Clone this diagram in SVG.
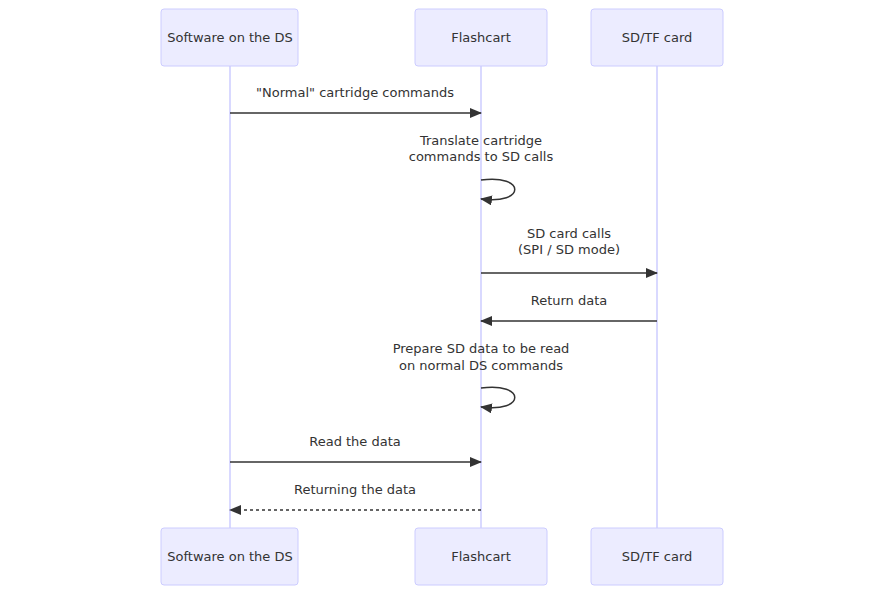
<svg xmlns="http://www.w3.org/2000/svg" width="885" height="595" viewBox="0 0 885 595">
<defs>
<style>
.actor{fill:#ECECFF;stroke:#CCCCFF;stroke-width:1}
.life{stroke:#CCCCFF;stroke-width:1.5}
.lbl{font-family:"DejaVu Sans",sans-serif;font-size:13px;fill:#333;text-anchor:middle}
.msg{stroke:#333;stroke-width:1.5;fill:none}
.dash{stroke-dasharray:3,3}
</style>
<marker id="ah" viewBox="0 0 12 10" refX="11" refY="5" markerWidth="12" markerHeight="10" markerUnits="userSpaceOnUse" orient="auto">
<path d="M0,0 L12,5 L0,10 z" fill="#333"/>
</marker>
</defs>
<rect width="885" height="595" fill="#fff"/>
<g id="lifelines">
<line class="life" x1="230" y1="66" x2="230" y2="528"/>
<line class="life" x1="481" y1="66" x2="481" y2="528"/>
<line class="life" x1="657" y1="66" x2="657" y2="528"/>
</g>
<g id="actor-ds-top"><rect class="actor" x="161" y="9" width="137" height="57" rx="3"/><text class="lbl" x="230" y="42">Software on the DS</text></g>
<g id="actor-fc-top"><rect class="actor" x="415" y="9" width="132" height="57" rx="3"/><text class="lbl" x="481" y="42">Flashcart</text></g>
<g id="actor-sd-top"><rect class="actor" x="591" y="9" width="132" height="57" rx="3"/><text class="lbl" x="657" y="42">SD/TF card</text></g>
<g id="actor-ds-bottom"><rect class="actor" x="161" y="528" width="137" height="57" rx="3"/><text class="lbl" x="230" y="561">Software on the DS</text></g>
<g id="actor-fc-bottom"><rect class="actor" x="415" y="528" width="132" height="57" rx="3"/><text class="lbl" x="481" y="561">Flashcart</text></g>
<g id="actor-sd-bottom"><rect class="actor" x="591" y="528" width="132" height="57" rx="3"/><text class="lbl" x="657" y="561">SD/TF card</text></g>
<g id="connectors">
<line class="msg" x1="230" y1="113" x2="481" y2="113" marker-end="url(#ah)"/>
<path class="msg" d="M481,180 C526,174 526,205 481,199" marker-end="url(#ah)"/>
<line class="msg" x1="481" y1="273" x2="657" y2="273" marker-end="url(#ah)"/>
<line class="msg" x1="657" y1="321" x2="481" y2="321" marker-end="url(#ah)"/>
<path class="msg" d="M481,388 C526,382 526,413 481,407" marker-end="url(#ah)"/>
<line class="msg" x1="230" y1="462" x2="481" y2="462" marker-end="url(#ah)"/>
<line class="msg dash" x1="481" y1="510" x2="230" y2="510" marker-end="url(#ah)"/>
</g>
<g id="labels">
<text class="lbl" x="355" y="97">"Normal" cartridge commands</text>
<text class="lbl" x="481" y="145">Translate cartridge</text>
<text class="lbl" x="481" y="161">commands to SD calls</text>
<text class="lbl" x="569" y="238">SD card calls</text>
<text class="lbl" x="569" y="254">(SPI / SD mode)</text>
<text class="lbl" x="569" y="305">Return data</text>
<text class="lbl" x="481" y="353">Prepare SD data to be read</text>
<text class="lbl" x="481" y="370">on normal DS commands</text>
<text class="lbl" x="355" y="446">Read the data</text>
<text class="lbl" x="355" y="494">Returning the data</text>
</g>
</svg>
